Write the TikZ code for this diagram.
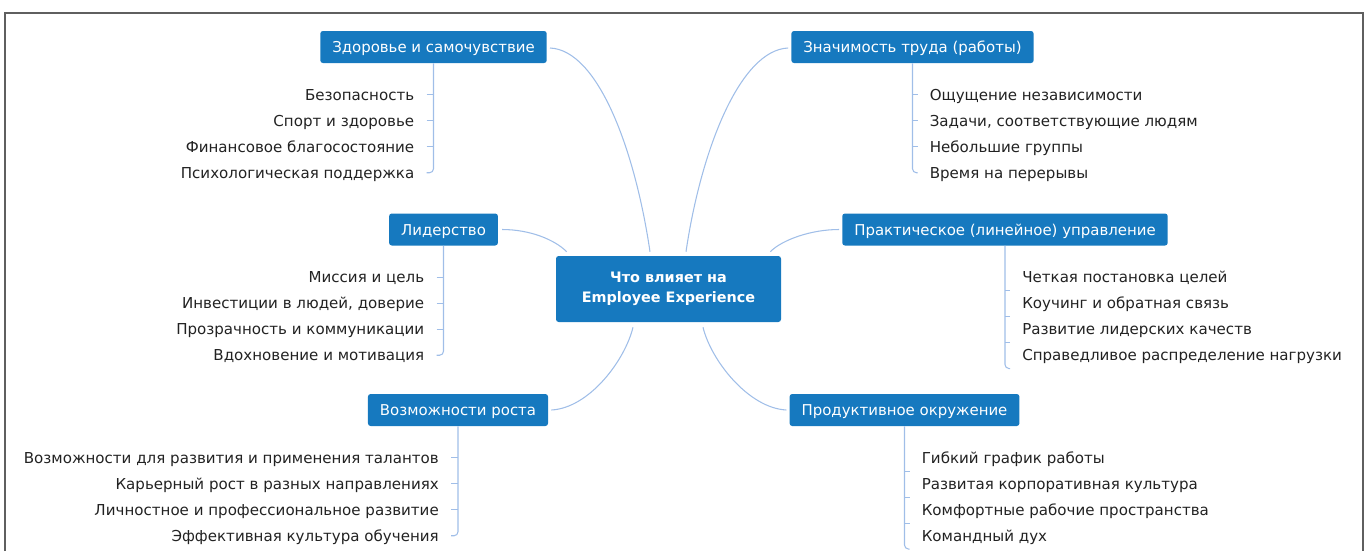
\documentclass[tikz,border=0pt]{standalone}
\usepackage{fontspec}
\setmainfont{DejaVu Sans}
\usetikzlibrary{calc}
\definecolor{boxblue}{RGB}{22,121,191}
\definecolor{linkblue}{RGB}{160,190,232}
\definecolor{textgray}{RGB}{34,34,34}
\definecolor{framegray}{RGB}{95,95,95}

\begin{document}
\begin{tikzpicture}[x=0.75pt,y=0.75pt,yscale=-1,xscale=1,
    topic/.style={fill=boxblue,text=white,rounded corners=2pt,inner xsep=9pt,inner ysep=0pt,minimum height=24pt,text height=9.4pt,text depth=1pt,font=\fontsize{11.2}{13}\selectfont},
    core/.style={fill=boxblue,text=white,rounded corners=2pt,minimum width=168.75pt,minimum height=49.5pt,align=center,font=\fontsize{10.8}{15}\selectfont\bfseries},
    item/.style={text=textgray,inner xsep=9pt,inner ysep=0pt,minimum height=19.5pt,text height=9.4pt,text depth=1pt,font=\fontsize{11.3}{13}\selectfont},
    link/.style={linkblue,line width=0.8pt},
    branch/.style={linkblue,line width=0.8pt,rounded corners=3pt}]
        \useasboundingbox (0,0) rectangle (1371,551);

        %Frame
        \draw [framegray,line width=1.5pt] (5,551) -- (5,13) -- (1363,13) -- (1363,551) ;

        % Central Node
        \node [core] (core) at (668.5,289) {Что влияет на\\Employee Experience};

        % Topic Nodes
        \node [topic] (health) at (433.5,47) {Здоровье и самочувствие};
        \node [topic] (meaning) at (912.5,47) {Значимость труда (работы)};
        \node [topic] (lead) at (443.5,229.5) {Лидерство};
        \node [topic] (practice) at (1005,229.5) {Практическое (линейное) управление};
        \node [topic] (growth) at (458,410) {Возможности роста};
        \node [topic] (env) at (904.5,410) {Продуктивное окружение};

        % Curves to the central node
        \draw [link] ($(health.east)+(3,1)$) .. controls +(48,2) and +(-15,-102) .. ($(core.north)+(-18.5,-4)$) ;
        \draw [link] ($(meaning.west)+(-3,1)$) .. controls +(-48,2) and +(15,-102) .. ($(core.north)+(17.5,-4)$) ;
        \draw [link] ($(lead.east)+(4,0)$) .. controls +(28,0) and +(-12,-12) .. ($(core.north west)+(11,-4)$) ;
        \draw [link] ($(practice.west)+(-3,0)$) .. controls +(-28,0) and +(12,-12) .. ($(core.north east)+(-11,-4)$) ;
        \draw [link] ($(growth.east)+(3,0)$) .. controls +(38,-2) and +(-8,33) .. ($(core.south)+(-35.5,5)$) ;
        \draw [link] ($(env.west)+(-3,0)$) .. controls +(-38,-2) and +(8,33) .. ($(core.south)+(34.5,5)$) ;

        % Items: Здоровье
        \node [item,anchor=east] (h1) at ($(health.south)+(-7,31.5)$) {Безопасность};
        \node [item,anchor=east] (h2) at ($(h1.east)+(0,26)$) {Спорт и здоровье};
        \node [item,anchor=east] (h3) at ($(h2.east)+(0,26)$) {Финансовое благосостояние};
        \node [item,anchor=east] (h4) at ($(h3.east)+(0,26)$) {Психологическая поддержка};
        \draw [branch] (health.south) |- (h4.east) ;
        \draw [branch] (h1.east) -- (h1.east -| health.south) ;
        \draw [branch] (h2.east) -- (h2.east -| health.south) ;
        \draw [branch] (h3.east) -- (h3.east -| health.south) ;

        % Items: Лидерство
        \node [item,anchor=east] (l1) at ($(lead.south)+(-7,31.5)$) {Миссия и цель};
        \node [item,anchor=east] (l2) at ($(l1.east)+(0,26)$) {Инвестиции в людей, доверие};
        \node [item,anchor=east] (l3) at ($(l2.east)+(0,26)$) {Прозрачность и коммуникации};
        \node [item,anchor=east] (l4) at ($(l3.east)+(0,26)$) {Вдохновение и мотивация};
        \draw [branch] (lead.south) |- (l4.east) ;
        \draw [branch] (l1.east) -- (l1.east -| lead.south) ;
        \draw [branch] (l2.east) -- (l2.east -| lead.south) ;
        \draw [branch] (l3.east) -- (l3.east -| lead.south) ;

        % Items: Возможности роста
        \node [item,anchor=east] (g1) at ($(growth.south)+(-7,31.5)$) {Возможности для развития и применения талантов};
        \node [item,anchor=east] (g2) at ($(g1.east)+(0,26)$) {Карьерный рост в разных направлениях};
        \node [item,anchor=east] (g3) at ($(g2.east)+(0,26)$) {Личностное и профессиональное развитие};
        \node [item,anchor=east] (g4) at ($(g3.east)+(0,26)$) {Эффективная культура обучения};
        \draw [branch] (growth.south) |- (g4.east) ;
        \draw [branch] (g1.east) -- (g1.east -| growth.south) ;
        \draw [branch] (g2.east) -- (g2.east -| growth.south) ;
        \draw [branch] (g3.east) -- (g3.east -| growth.south) ;

        % Items: Значимость труда
        \node [item,anchor=west] (m1) at ($(meaning.south)+(5,31.5)$) {Ощущение независимости};
        \node [item,anchor=west] (m2) at ($(m1.west)+(0,26)$) {Задачи, соответствующие людям};
        \node [item,anchor=west] (m3) at ($(m2.west)+(0,26)$) {Небольшие группы};
        \node [item,anchor=west] (m4) at ($(m3.west)+(0,26)$) {Время на перерывы};
        \draw [branch] (meaning.south) |- (m4.west) ;
        \draw [branch] (m1.west) -- (m1.west -| meaning.south) ;
        \draw [branch] (m2.west) -- (m2.west -| meaning.south) ;
        \draw [branch] (m3.west) -- (m3.west -| meaning.south) ;

        % Items: Практическое управление
        \node [item,anchor=west] (p1) at ($(practice.south)+(5,31.5)$) {Четкая постановка целей};
        \node [item,anchor=west] (p2) at ($(p1.west)+(0,26)$) {Коучинг и обратная связь};
        \node [item,anchor=west] (p3) at ($(p2.west)+(0,26)$) {Развитие лидерских качеств};
        \node [item,anchor=west] (p4) at ($(p3.west)+(0,26)$) {Справедливое распределение нагрузки};
        \draw [branch] (practice.south) |- (p4.south west) ;
        \draw [branch] (p1.south west) -- (p1.south west -| practice.south) ;
        \draw [branch] (p2.south west) -- (p2.south west -| practice.south) ;
        \draw [branch] (p3.south west) -- (p3.south west -| practice.south) ;

        % Items: Продуктивное окружение
        \node [item,anchor=west] (e1) at ($(env.south)+(5,31.5)$) {Гибкий график работы};
        \node [item,anchor=west] (e2) at ($(e1.west)+(0,26)$) {Развитая корпоративная культура};
        \node [item,anchor=west] (e3) at ($(e2.west)+(0,26)$) {Комфортные рабочие пространства};
        \node [item,anchor=west] (e4) at ($(e3.west)+(0,26)$) {Командный дух};
        \draw [branch] (env.south) |- (e4.south west) ;
        \draw [branch] (e1.south west) -- (e1.south west -| env.south) ;
        \draw [branch] (e2.south west) -- (e2.south west -| env.south) ;
        \draw [branch] (e3.south west) -- (e3.south west -| env.south) ;

    \end{tikzpicture}
\end{document}
